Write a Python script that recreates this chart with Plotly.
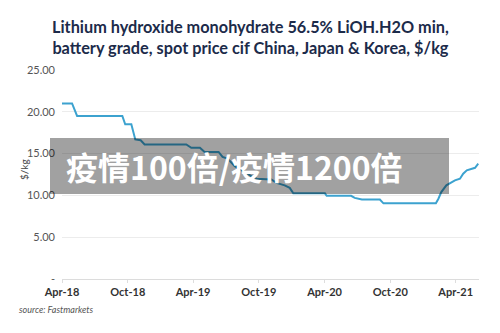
import plotly.graph_objects as go

# Lithium hydroxide spot price, $/kg (weekly assessments, change points)
dates = ["2018-04-01", "2018-04-29", "2018-05-13", "2018-09-16", "2018-09-24",
         "2018-10-11", "2018-10-22", "2018-11-06", "2018-11-17", "2019-03-13",
         "2019-03-27", "2019-04-20", "2019-05-03", "2019-06-11", "2019-06-22",
         "2019-07-06", "2019-07-26", "2019-08-17", "2019-09-10", "2019-09-25",
         "2019-11-05", "2019-11-19", "2019-12-12", "2019-12-26", "2020-01-05",
         "2020-04-02", "2020-04-07", "2020-06-14", "2020-06-24", "2020-07-14",
         "2020-09-02", "2020-09-12", "2021-02-05", "2021-02-12", "2021-02-20",
         "2021-03-06", "2021-03-16", "2021-03-30", "2021-04-13", "2021-04-22",
         "2021-05-02", "2021-05-15", "2021-05-25", "2021-06-03"]
prices = [21.0, 21.0, 19.5, 19.5, 18.5,
          18.5, 16.7, 16.6, 16.1, 16.1,
          15.7, 15.7, 15.2, 15.2, 14.6,
          14.4, 13.5, 12.9, 12.3, 12.0,
          11.9, 11.5, 11.2, 10.9, 10.25,
          10.25, 9.95, 9.95, 9.7, 9.5,
          9.5, 9.05, 9.05, 9.6, 10.4,
          11.2, 11.45, 11.8, 12.0, 12.6,
          13.0, 13.2, 13.3, 13.8]

x_tick_vals = ["2018-04-01", "2018-10-01", "2019-04-01", "2019-10-01",
               "2020-04-01", "2020-10-01", "2021-04-01"]
x_tick_text = ["Apr-18", "Oct-18", "Apr-19", "Oct-19", "Apr-20", "Oct-20", "Apr-21"]
y_tick_vals = [0, 5, 10, 15, 20, 25]
y_tick_text = ["-", "5.00", "10.00", "15.00", "20.00", "25.00"]

title_text = ("Lithium hydroxide monohydrate 56.5% LiOH.H2O min,<br>"
              "battery grade, spot price cif China, Japan & Korea, $/kg")
banner_text = "疫情100倍/疫情1200倍"

W, H = 500, 333
ML, MR, MT, MB = 62, 21, 70, 54
pw, ph = W - ML - MR, H - MT - MB


def px_x(p):
    return (p - ML) / pw


def px_y(p):
    return (H - MB - p) / ph


fig = go.Figure()
fig.add_trace(go.Scatter(
    x=dates, y=prices, mode="lines",
    line=dict(color="#3ca2cf", width=2),
    hoverinfo="skip", showlegend=False,
))

fig.update_layout(
    width=W, height=H,
    margin=dict(l=ML, r=MR, t=MT, b=MB),
    paper_bgcolor="white", plot_bgcolor="white",
    font=dict(family="Lato, sans-serif", color="#444"),
    xaxis=dict(range=["2018-04-01", "2021-06-05"], tickvals=x_tick_vals,
               ticktext=x_tick_text, showgrid=False, showline=False,
               ticks="outside", ticklen=3, tickcolor="#dddddd",
               tickfont=dict(size=11, color="#333", weight="bold"),
               zeroline=False),
    yaxis=dict(range=[0, 25], tickvals=y_tick_vals, ticktext=y_tick_text,
               showgrid=True, gridcolor="#ececec", gridwidth=1,
               zeroline=True, zerolinecolor="#dcdcdc", zerolinewidth=1,
               showline=False, ticks="", ticklabelstandoff=6,
               tickfont=dict(size=11, color="#555")),
)

# chart title, two centred lines
fig.add_annotation(text=title_text, xref="paper", yref="paper",
                   x=px_x(250), y=px_y(15), xanchor="center", yanchor="top",
                   align="center", showarrow=False,
                   font=dict(family="Lato, sans-serif", size=16.3, color="#1c2b4a",
                             weight="bold"))

# y-axis label and source note
fig.add_annotation(text="$/kg", xref="paper", yref="paper",
                   x=px_x(16), y=px_y(170), textangle=-90, showarrow=False,
                   font=dict(size=10, color="#444"))
fig.add_annotation(text="<i>source: Fastmarkets</i>", xref="paper", yref="paper",
                   x=px_x(17), y=px_y(316.5), xanchor="left", showarrow=False,
                   font=dict(size=9, color="#555"))

# translucent grey banner with white caption
fig.add_shape(type="rect", xref="paper", yref="paper",
              x0=px_x(50), x1=px_x(449), y0=px_y(194), y1=px_y(138),
              fillcolor="rgba(0,0,0,0.37)", line=dict(width=0), layer="above")
fig.add_annotation(text=banner_text, xref="paper", yref="paper",
                   x=px_x(64), y=px_y(166), xanchor="left", yanchor="middle",
                   showarrow=False,
                   font=dict(family="Noto Sans CJK SC", size=32, color="white",
                             weight="bold"))

fig.write_html("out.html")
